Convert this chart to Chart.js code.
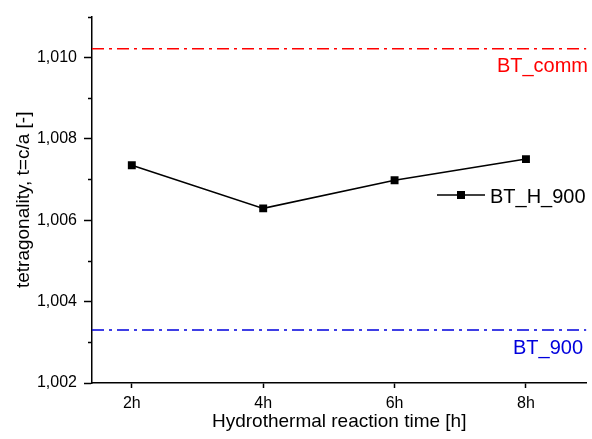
<!DOCTYPE html>
<html>
<head>
<meta charset="utf-8">
<script src="https://cdn.jsdelivr.net/npm/chart.js@4"></script>
<style>
  html, body { margin: 0; padding: 0; background: #fff; }
  #wrap { width: 592px; height: 439px; }
</style>
</head>
<body>
<div id="wrap"><canvas id="canvas" width="592" height="439"></canvas></div>
<script>
// reaction time (h) and measured tetragonality
const hours = [2, 4, 6, 8];
const hourLabels = ['2h', '4h', '6h', '8h'];
const tetragonality = [1.00735, 1.00629, 1.00698, 1.00750];

// reference levels
const refNames = ['BT_comm', 'BT_900'];
const refValues = [1.01021, 1.00330];
const refColors = ['#ff0000', '#0000dd'];
const refLabelRight = [588, 583];

const yTicks = [1.002, 1.003, 1.004, 1.005, 1.006, 1.007, 1.008, 1.009, 1.010, 1.011];
const seriesName = 'BT_H_900';

const FONT = '"Liberation Sans", Arial, sans-serif';
const X_MIN = 1.394, X_MAX = 8.92;

let isMajor = function (v) {
    return Math.round(v * 1000) % 2 === 0;
};

// minor y ticks, reference labels and the series key
let extras = {
    id: 'extras',
    afterDraw(chart) {
        const ctx = chart.ctx;
        const y = chart.scales.y;
        const area = chart.chartArea;
        ctx.save();
        ctx.strokeStyle = '#000';
        ctx.lineWidth = 1.5;
        yTicks.filter(v => !isMajor(v)).forEach(v => {
            const py = Math.round(y.getPixelForValue(v)) + 0.5;
            ctx.beginPath();
            ctx.moveTo(area.left - 4, py);
            ctx.lineTo(area.left, py);
            ctx.stroke();
        });

        ctx.font = '20px ' + FONT;
        ctx.textAlign = 'right';
        ctx.textBaseline = 'middle';
        refNames.forEach((name, i) => {
            ctx.fillStyle = refColors[i];
            ctx.fillText(name, refLabelRight[i], y.getPixelForValue(refValues[i]) + 18);
        });

        // legend entry
        const ly = 195;
        ctx.strokeStyle = '#000';
        ctx.lineWidth = 1.5;
        ctx.beginPath();
        ctx.moveTo(437, ly);
        ctx.lineTo(485, ly);
        ctx.stroke();
        ctx.fillStyle = '#000';
        ctx.fillRect(457, ly - 4, 8, 8);
        ctx.textAlign = 'left';
        ctx.fillText(seriesName, 490, ly + 2);
        ctx.restore();
    }
};

let refDataset = function (i) {
    return {
        label: refNames[i],
        data: [{x: X_MIN, y: refValues[i]}, {x: X_MAX, y: refValues[i]}],
        borderColor: refColors[i],
        borderWidth: 1.5,
        borderDash: [12, 5, 3, 5],
        pointRadius: 0,
        fill: false
    };
};

new Chart(document.getElementById('canvas').getContext('2d'), {
    type: 'line',
    data: {
        datasets: [
            {
                label: seriesName,
                data: hours.map((h, i) => ({x: h, y: tetragonality[i]})),
                borderColor: '#000',
                borderWidth: 1.5,
                pointStyle: 'rect',
                pointRadius: 5.6,
                pointBackgroundColor: '#000',
                pointBorderColor: '#000',
                pointBorderWidth: 0,
                tension: 0,
                fill: false
            },
            refDataset(0),
            refDataset(1)
        ]
    },
    options: {
        responsive: false,
        animation: false,
        layout: { padding: { top: 15, right: 0, left: 0, bottom: 0 } },
        plugins: {
            legend: { display: false },
            tooltip: { enabled: false }
        },
        scales: {
            x: {
                type: 'linear',
                min: X_MIN,
                max: X_MAX,
                afterFit: s => { s.height = 56; s.paddingLeft = 0; s.paddingRight = 0; },
                afterBuildTicks: s => { s.ticks = hours.map(v => ({value: v})); },
                border: { color: '#000', width: 1.5 },
                grid: { drawOnChartArea: false, drawTicks: true, tickLength: 5, tickColor: '#000', tickWidth: 1.5 },
                ticks: {
                    color: '#000',
                    font: { family: FONT, size: 16 },
                    padding: 6,
                    maxRotation: 0,
                    callback: v => hourLabels[hours.indexOf(v)] || ''
                },
                title: {
                    display: true,
                    text: 'Hydrothermal reaction time [h]',
                    color: '#000',
                    font: { family: FONT, size: 19 },
                    padding: { top: 0, bottom: 6 }
                }
            },
            y: {
                type: 'linear',
                min: 1.002,
                max: 1.011,
                afterFit: s => { s.width = 92; },
                afterBuildTicks: s => { s.ticks = yTicks.map(v => ({value: v})); },
                border: { color: '#000', width: 1.5 },
                grid: {
                    drawOnChartArea: false,
                    drawTicks: true,
                    tickLength: 8,
                    tickWidth: 1.5,
                    tickColor: c => (c.tick && isMajor(c.tick.value)) ? '#000' : 'rgba(0,0,0,0)'
                },
                ticks: {
                    color: '#000',
                    font: { family: FONT, size: 16 },
                    padding: 7,
                    callback: v => isMajor(v) ? v.toFixed(3).replace('.', ',') : ''
                },
                title: {
                    display: true,
                    text: 'tetragonality, t=c/a [-]',
                    color: '#000',
                    font: { family: FONT, size: 19 },
                    padding: 12
                }
            }
        }
    },
    plugins: [extras]
});
</script>
</body>
</html>
